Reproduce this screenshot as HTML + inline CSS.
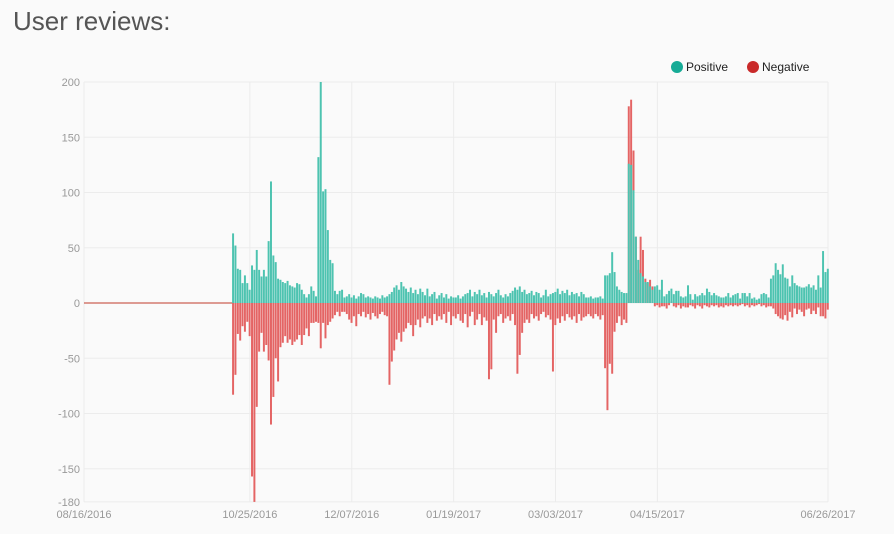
<!DOCTYPE html>
<html><head><meta charset="utf-8"><style>
body{margin:0;background:#fafafa;font-family:"Liberation Sans",sans-serif;}
#wrap{position:relative;width:894px;height:534px;overflow:hidden;}
h1{position:absolute;left:13px;top:6px;margin:0;font-weight:normal;font-size:26px;color:#555;}
</style></head><body>
<div id="wrap">
<h1>User reviews:</h1>
<svg id="c" width="894" height="534" style="position:absolute;left:0;top:0"></svg>
</div>
<script>
const startDay=63;
const posSeries=[63,52,31,30,18,25,18,12,34,30,48,30,24,30,24,56,110,43,37,22,21,19,18,
20,16,15,14,18,17,12,8,5,8,15,11,6,132,200,101,103,66,39,36,11,8,11,12,5,
6,8,5,7,4,6,9,8,5,6,5,4,6,5,4,7,5,6,8,10,14,16,12,19,15,13,10,14,9,12,8,13,10,7,
13,6,8,10,4,7,9,5,8,4,6,5,5,7,4,6,8,9,12,6,10,8,12,7,9,5,10,8,6,9,12,7,5,8,
6,9,11,14,12,15,10,12,8,9,11,7,10,9,5,7,12,6,8,9,10,13,8,11,9,12,7,10,8,9,6,10,8,5,
5,6,4,5,5,6,4,25,25,27,46,28,15,12,10,9,9,126,125,102,60,39,
27,24,19,19,15,12,15,16,12,21,6,8,11,13,8,11,11,6,5,6,16,8,3,8,6,7,9,7,13,10,7,9,7,6,5,5,6,9,5,7,
8,9,4,9,9,6,9,4,5,3,4,8,9,8,5,22,25,36,30,26,35,23,22,15,25,18,16,15,14,14,15,17,14,16,12,25,14,47,28,31];
const negSeries=[-83,-65,-28,-34,-21,-26,-17,-30,-157,-180,-94,-44,-27,-44,-38,-52,-110,-85,-50,-71,-40,-36,-30,
-36,-33,-38,-35,-33,-29,-38,-29,-23,-30,-18,-18,-17,-18,-41,-18,-32,-20,-17,-14,-11,-8,-12,-8,-8,
-10,-15,-18,-12,-21,-10,-12,-8,-13,-10,-15,-9,-12,-14,-10,-8,-11,-12,-74,-53,-43,-33,-27,-35,-26,-23,-18,-20,-30,-20,-15,-22,-14,-12,
-18,-14,-20,-10,-16,-12,-15,-10,-18,-8,-20,-12,-14,-10,-16,-18,-10,-22,-12,-8,-20,-15,-10,-20,-13,-16,-69,-60,-15,-27,-12,-10,-18,-14,
-12,-16,-10,-20,-64,-47,-27,-18,-15,-18,-10,-14,-12,-16,-10,-8,-13,-11,-15,-62,-20,-14,-18,-12,-16,-10,-13,-15,-12,-18,-10,-16,-13,-12,
-10,-12,-14,-10,-12,-15,-11,-59,-97,-55,-64,-26,-18,-12,-20,-15,-18,178,184,138,60,30,
60,48,22,18,21,15,-3,-2,-4,-3,-3,-5,-2,2,-3,-4,-2,-5,-3,-4,-4,-2,-3,-5,-2,-3,-5,-2,-3,-4,-2,-3,-2,-4,-3,-4,-2,-3,-2,-3,
-2,-3,-2,-1,-3,-2,-4,-2,-3,-2,-1,-3,-2,-4,-3,-3,-5,-10,-12,-14,-15,-11,-16,-8,-13,-5,-10,-6,-8,-12,-6,-5,-10,-7,-10,-4,-12,-12,-14,-6];
const yTicks=[200,150,100,50,0,-50,-100,-150,-180];
const xTickLabels=["08/16/2016","10/25/2016","12/07/2016","01/19/2017","03/03/2017","04/15/2017","06/26/2017"];
const xTickDays=[0,70,113,156,199,242,314];

const NS="http://www.w3.org/2000/svg";
const svg=document.getElementById('c');
const X0=84,X1=828,DAYS=314,Y0=303,PPU=1.105;
const xs=d=>X0+d*(X1-X0)/DAYS;
const ys=v=>Y0-v*PPU;
function mk(t,a){const e=document.createElementNS(NS,t);for(const k in a)e.setAttribute(k,a[k]);svg.appendChild(e);return e;}
yTicks.forEach(v=>{
  const g=mk('line',{x1:X0,x2:X1,y1:ys(v),y2:ys(v),stroke:'#ececec','stroke-width':1});
  
  
  const t=mk('text',{x:80,y:ys(v)+4,'text-anchor':'end','font-size':11,fill:'#999'});
  t.textContent=v;
  
  
});
xTickDays.forEach((d,i)=>{
  const g=mk('line',{x1:xs(d),x2:xs(d),y1:ys(200),y2:ys(-180),stroke:'#ececec','stroke-width':1});
  
  
  const t=mk('text',{x:xs(d),y:518,'text-anchor':'middle','font-size':11,fill:'#999'});
  t.textContent=xTickLabels[i];
  
  
});
const base=mk('line',{x1:X0,x2:xs(startDay),y1:Y0,y2:Y0,stroke:'#c0392b','stroke-width':1});


const bw=(X1-X0)/DAYS;
negSeries.forEach((v,i)=>{
  const x=xs(startDay+i)-bw/2;
  const r=mk('rect',{x:x,width:bw-0.4,y:Math.min(ys(0),ys(v)),height:Math.abs(v*PPU),fill:'#e46464'});
  
  
});
posSeries.forEach((v,i)=>{
  const x=xs(startDay+i)-bw/2;
  const r=mk('rect',{x:x,width:bw-0.4,y:ys(v),height:v*PPU,fill:'#4dc3b0'});
  
  
});
// legend
const l1=mk('circle',{cx:677,cy:67,r:6,fill:'#16ab96'});


const t1=mk('text',{x:686,y:71,'font-size':12,fill:'#222'});t1.textContent='Positive';


const l2=mk('circle',{cx:753,cy:67,r:6,fill:'#c92a2a'});


const t2=mk('text',{x:762,y:71,'font-size':12,fill:'#222'});t2.textContent='Negative';


</script>
</body></html>
